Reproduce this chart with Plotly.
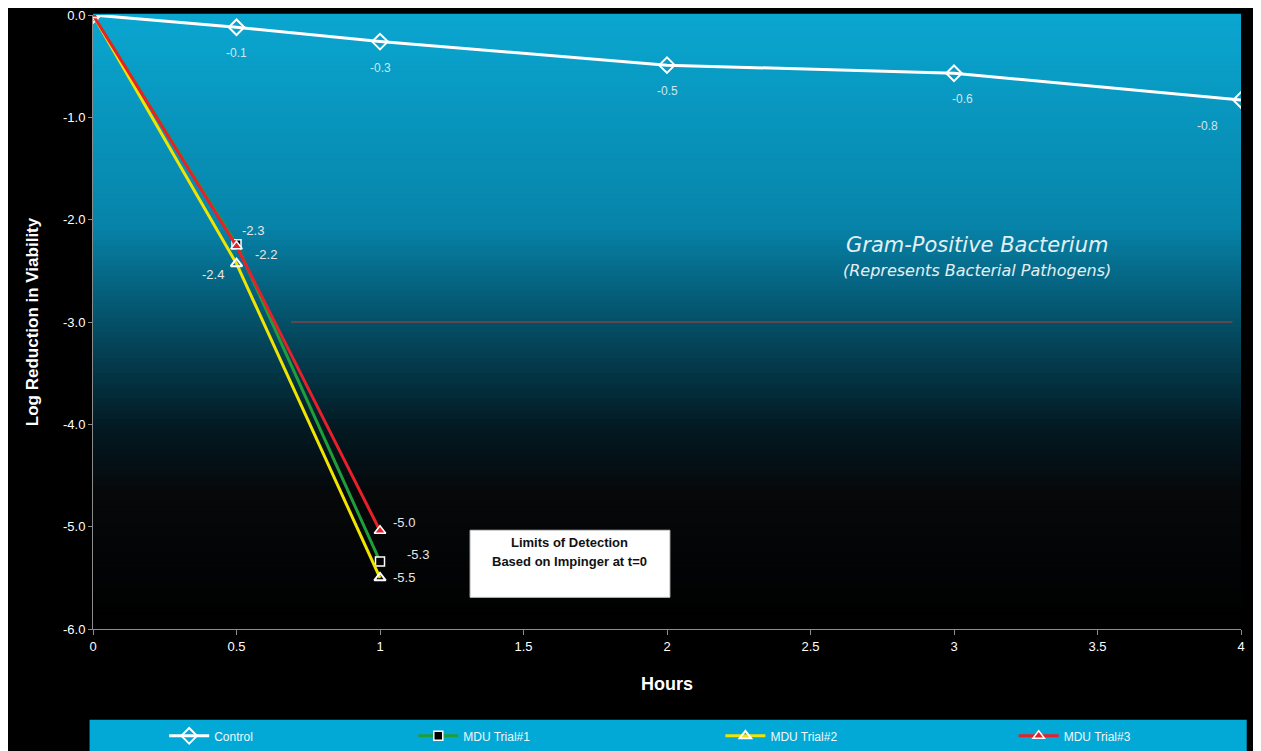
import plotly.graph_objects as go

# data
hours_control = [0, 0.5, 1, 2, 3, 4]
control = [0.0, -0.12, -0.26, -0.49, -0.57, -0.83]

hours_mdu = [0, 0.5, 1]
trial1 = [0.0, -2.24, -5.34]
trial2 = [0.0, -2.43, -5.5]
trial3 = [0.0, -2.26, -5.04]

x_ticks = [0, 0.5, 1, 1.5, 2, 2.5, 3, 3.5, 4]
y_ticks = [0, -1, -2, -3, -4, -5, -6]

detection_limit = -3.0
detection_x = [0.69, 3.97]

colors = {
    'paper': '#000000',
    'axis': '#8c8c8c',
    'text': '#ffffff',
    'control': '#ffffff',
    'trial1': '#1f9e3a',
    'trial2': '#f0e400',
    'trial3': '#e8202a',
    'legend_bg': '#02a8d6',
    'limit': '#7c4444',
}

# each series gets its own legend box so the entries sit where they are in the original
legend_x = {'legend': 0.062, 'legend2': 0.279, 'legend3': 0.5465, 'legend4': 0.802}

fig = go.Figure()

fig.add_trace(go.Scatter(
    x=hours_control, y=control, name='Control', mode='lines+markers', legend='legend',
    line=dict(color=colors['control'], width=3),
    marker=dict(symbol='diamond-open', size=12, color='#ffffff', line=dict(width=2)),
))
fig.add_trace(go.Scatter(
    x=hours_mdu, y=trial1, name='MDU Trial#1', mode='lines+markers', legend='legend2',
    line=dict(color=colors['trial1'], width=3),
    marker=dict(symbol='square', size=9, color='#000000', line=dict(color='#ffffff', width=1.5)),
))
fig.add_trace(go.Scatter(
    x=hours_mdu, y=trial2, name='MDU Trial#2', mode='lines+markers', legend='legend3',
    line=dict(color=colors['trial2'], width=3),
    marker=dict(symbol='triangle-up-open', size=10, color='#ffffff', line=dict(width=2)),
))
fig.add_trace(go.Scatter(
    x=hours_mdu, y=trial3, name='MDU Trial#3', mode='lines+markers', legend='legend4',
    line=dict(color=colors['trial3'], width=3),
    marker=dict(symbol='triangle-up', size=10, color=colors['trial3'], line=dict(color='#ffffff', width=1.5)),
))

# detection limit line
fig.add_trace(go.Scatter(
    x=detection_x, y=[detection_limit, detection_limit], mode='lines',
    line=dict(color=colors['limit'], width=1.5), showlegend=False, hoverinfo='skip',
))

# background gradient (cyan at top fading to black)
stops = [(1.0, (10, 166, 208)), (0.66, (7, 132, 170)), (0.5, (4, 80, 103)),
         (0.33, (3, 26, 35)), (0.22, (6, 8, 10)), (0.0, (0, 0, 0))]
shapes = []
n_bands = 120
for i in range(n_bands):
    f = (i + 0.5) / n_bands
    for k in range(len(stops) - 1):
        hi, lo = stops[k], stops[k + 1]
        if lo[0] <= f <= hi[0]:
            t = (f - lo[0]) / (hi[0] - lo[0])
            c = [round(lo[1][j] + t * (hi[1][j] - lo[1][j])) for j in range(3)]
            break
    shapes.append(dict(
        type='rect', xref='x domain', yref='y domain', layer='below',
        x0=0, x1=1, y0=i / n_bands, y1=(i + 1) / n_bands + 0.002,
        fillcolor=f'rgb({c[0]},{c[1]},{c[2]})', line=dict(width=0),
    ))

# legend band
shapes.append(dict(type='rect', xref='paper', yref='paper', x0=-0.003, x1=1.005,
                   y0=-0.2, y1=-0.148, fillcolor=colors['legend_bg'], line=dict(width=0)))
# limits of detection box
shapes.append(dict(type='rect', xref='x', yref='y', x0=1.314, x1=2.01, y0=-5.69, y1=-5.035,
                   fillcolor='#ffffff', line=dict(color='#d0d0d0', width=1)))

annotations = []
for xv, yv in zip(hours_control[1:], control[1:]):
    annotations.append(dict(
        x=xv, y=yv, text=f'{yv:.1f}', showarrow=False, yshift=-26,
        xshift=-34 if xv == 4 else (8 if xv == 3 else 0),
        font=dict(color='#cfe6ee', size=12, family='Liberation Sans'),
    ))

label_offsets = {
    'trial1': [(29, -10), (38, 7)],
    'trial2': [(-24, -11), (24, 0)],
    'trial3': [(16, 16), (24, 8)],
}
for key, vals in (('trial1', trial1), ('trial2', trial2), ('trial3', trial3)):
    for (dx, dy), xv, yv in zip(label_offsets[key], hours_mdu[1:], vals[1:]):
        annotations.append(dict(
            x=xv, y=yv, text=f'{yv:.1f}', showarrow=False, xshift=dx, yshift=dy,
            font=dict(color='#e6e6e6', size=13, family='Liberation Sans'),
        ))

annotations.append(dict(
    x=1.662, y=-5.15, text='<b>Limits of Detection</b>', showarrow=False,
    font=dict(color='#111111', size=13, family='Liberation Sans'),
))
annotations.append(dict(
    x=1.662, y=-5.345, text='<b>Based on Impinger at t=0</b>', showarrow=False,
    font=dict(color='#111111', size=13, family='Liberation Sans'),
))
annotations.append(dict(
    x=3.08, y=-2.25, text='<i>Gram-Positive Bacterium</i>', showarrow=False,
    font=dict(color='#e3eff3', size=21, family='DejaVu Sans'),
))
annotations.append(dict(
    x=3.08, y=-2.5, text='<i>(Represents Bacterial Pathogens)</i>', showarrow=False,
    font=dict(color='#e3eff3', size=16, family='DejaVu Sans'),
))

legend_style = dict(
    orientation='h', y=-0.174, xanchor='left', yanchor='middle',
    bgcolor='rgba(0,0,0,0)', itemwidth=40,
    font=dict(color='#f0f8fb', size=12, family='Liberation Sans Narrow, Liberation Sans'),
)

fig.update_layout(
    width=1253, height=743,
    paper_bgcolor=colors['paper'], plot_bgcolor=colors['paper'],
    margin=dict(l=85, r=20, t=7, b=122, autoexpand=False),
    font=dict(family='Liberation Sans, Arial', color=colors['text'], size=13),
    shapes=shapes, annotations=annotations,
    showlegend=True,
    legend=dict(x=legend_x['legend'], **legend_style),
    legend2=dict(x=legend_x['legend2'], **legend_style),
    legend3=dict(x=legend_x['legend3'], **legend_style),
    legend4=dict(x=legend_x['legend4'], **legend_style),
)

fig.update_xaxes(
    range=[0, 4], tickvals=x_ticks, ticktext=[f'{v:g}' for v in x_ticks],
    showgrid=False, zeroline=False, showline=True, linecolor=colors['axis'], linewidth=1,
    ticks='outside', tickcolor=colors['axis'], ticklen=5, automargin=False,
    tickfont=dict(color=colors['text'], size=13), ticklabeloverflow='allow',
    title=dict(text='<b>Hours</b>', font=dict(size=18, color=colors['text']), standoff=24),
)
fig.update_yaxes(
    range=[-6, 0], tickvals=y_ticks, ticktext=[f'{v:.1f}' for v in y_ticks],
    showgrid=False, zeroline=False, showline=True, linecolor=colors['axis'], linewidth=1,
    ticks='outside', tickcolor=colors['axis'], ticklen=4, automargin=False,
    tickfont=dict(color=colors['text'], size=13), ticklabeloverflow='allow',
    title=dict(text='<b>Log Reduction in Viability</b>', font=dict(size=17, color=colors['text']), standoff=20),
)

fig.write_html("out.html")
